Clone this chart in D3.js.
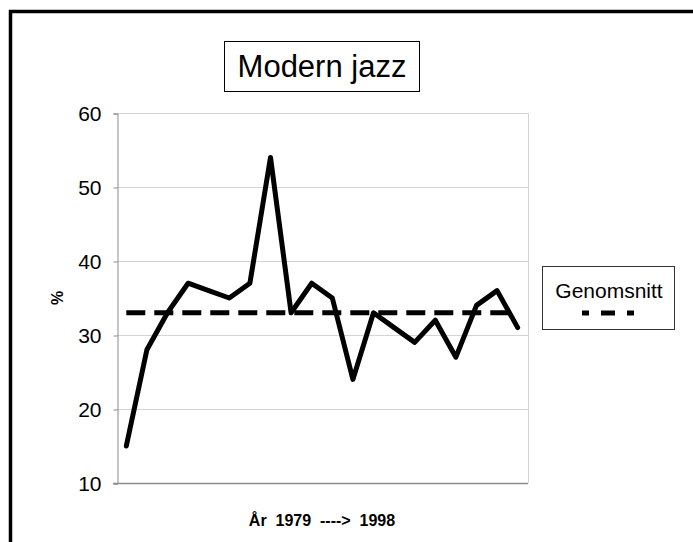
<!DOCTYPE html>
<html>
<head>
<meta charset="utf-8">
<script src="https://cdn.jsdelivr.net/npm/d3@7"></script>
<style>
  body { margin: 0; background: #fff; }
  text { font-family: "Liberation Sans", Arial, sans-serif; }
</style>
</head>
<body>
<script>
// data
var years = [1979, 1980, 1981, 1982, 1983, 1984, 1985, 1986, 1987, 1988,
             1989, 1990, 1991, 1992, 1993, 1994, 1995, 1996, 1997, 1998];
var values = [15, 28, 33, 37, 36, 35, 37, 54, 33, 37,
              35, 24, 33, 31, 29, 32, 27, 34, 36, 31];
var average = [33];
var yTicks = [10, 20, 30, 40, 50, 60];

var w = 693;
var h = 542;

var svg = d3.select("body")
    .append("svg")
    .attr("width", w)
    .attr("height", h);

// outer frame (top and left only visible)
svg.append("path")
    .attr("d", "M10.5,545 L10.5,11.5 L700,11.5")
    .attr("fill", "none")
    .attr("stroke", "#000")
    .attr("stroke-width", 3.5);

var x = d3.scalePoint()
    .domain(years)
    .range([116, 528])
    .padding(0.5);

var y = d3.scaleLinear()
    .domain([10, 60])
    .range([483, 113]);

// gridlines
svg.selectAll("line.grid")
    .data(yTicks.slice(1))
    .enter()
    .append("line")
    .attr("class", "grid")
    .attr("x1", 117)
    .attr("x2", 528)
    .attr("y1", function(d) { return y(d) + 0.5; })
    .attr("y2", function(d) { return y(d) + 0.5; })
    .attr("stroke", "#d4d4d4")
    .attr("stroke-width", 1);

// right edge of the plot
svg.append("line")
    .attr("x1", 528.5).attr("x2", 528.5)
    .attr("y1", y(60)).attr("y2", y(10))
    .attr("stroke", "#d4d4d4");

// y axis
var yAxis = d3.axisLeft(y)
    .tickValues(yTicks)
    .tickSize(4)
    .tickPadding(12);

var gy = svg.append("g")
    .attr("transform", "translate(117.5,0.5)")
    .call(yAxis);
gy.select(".domain").attr("stroke", "#8c8c8c");
gy.selectAll(".tick line").attr("stroke", "#8c8c8c");
gy.selectAll(".tick text")
    .attr("font-size", "21px")
    .attr("fill", "#000")
    .attr("font-family", "Liberation Sans, Arial, sans-serif");

// x axis baseline
svg.append("line")
    .attr("x1", 113).attr("x2", 528)
    .attr("y1", y(10) + 0.5).attr("y2", y(10) + 0.5)
    .attr("stroke", "#8c8c8c")
    .attr("stroke-width", 1.5);

// average line
svg.selectAll("line.avg")
    .data(average)
    .enter()
    .append("line")
    .attr("class", "avg")
    .attr("x1", x(years[0]))
    .attr("x2", x(years[years.length - 1]))
    .attr("y1", function(d) { return y(d); })
    .attr("y2", function(d) { return y(d); })
    .attr("stroke", "#000")
    .attr("stroke-width", 5)
    .attr("stroke-dasharray", "19,9");

// data line
var line = d3.line()
    .x(function(d, i) { return x(years[i]); })
    .y(function(d) { return y(d); });

svg.append("path")
    .datum(values)
    .attr("d", line)
    .attr("fill", "none")
    .attr("stroke", "#000")
    .attr("stroke-width", 5)
    .attr("stroke-linejoin", "round")
    .attr("stroke-linecap", "round");

// title box
svg.append("rect")
    .attr("x", 224.5).attr("y", 41.5)
    .attr("width", 195).attr("height", 50)
    .attr("fill", "#fff")
    .attr("stroke", "#000");
svg.append("text")
    .attr("x", 322).attr("y", 77)
    .attr("text-anchor", "middle")
    .attr("font-size", "31px")
    .text("Modern jazz");

// axis titles
svg.append("text")
    .attr("transform", "translate(63,298) rotate(-90)")
    .attr("text-anchor", "middle")
    .attr("font-size", "16px")
    .attr("font-weight", "bold")
    .text("%");

svg.append("text")
    .attr("x", 322).attr("y", 526)
    .attr("text-anchor", "middle")
    .attr("font-size", "16px")
    .attr("font-weight", "bold")
    .style("white-space", "pre")
    .text("År  1979  ---->  1998");

// legend
svg.append("rect")
    .attr("x", 542.5).attr("y", 266.5)
    .attr("width", 132).attr("height", 63)
    .attr("fill", "#fff")
    .attr("stroke", "#333");
svg.append("text")
    .attr("x", 609).attr("y", 298)
    .attr("text-anchor", "middle")
    .attr("font-size", "21px")
    .text("Genomsnitt");
svg.append("line")
    .attr("x1", 582).attr("x2", 634)
    .attr("y1", 313).attr("y2", 313)
    .attr("stroke", "#000")
    .attr("stroke-width", 5)
    .attr("stroke-dasharray", "7,12,14,12");
</script>
</body>
</html>
